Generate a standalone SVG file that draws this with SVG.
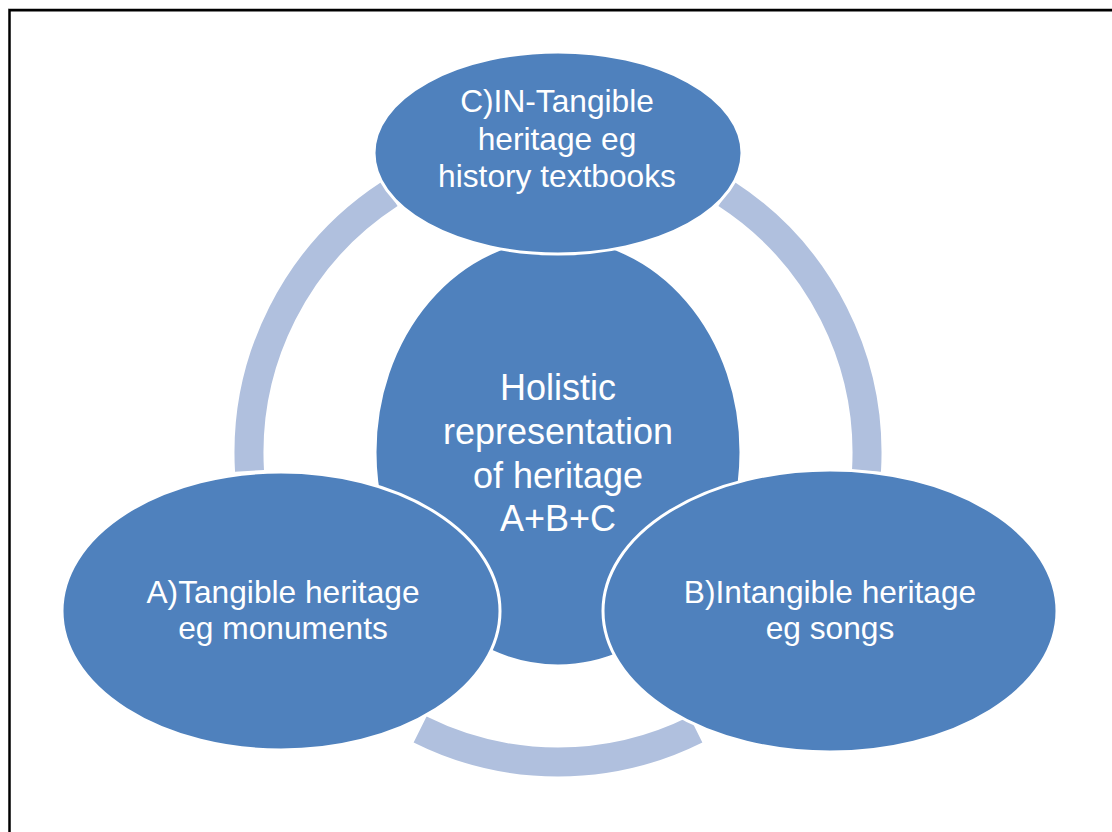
<svg xmlns="http://www.w3.org/2000/svg" width="1112" height="832" viewBox="0 0 1112 832">
  <style>
    .node { fill: #4F81BD; stroke: #FFFFFF; stroke-width: 3; }
    .arc { fill: none; stroke: #B0C0DE; stroke-width: 29; stroke-linecap: butt; }
    .lbl { fill: #FFFFFF; font-family: 'Liberation Sans', Arial, sans-serif; font-size: 31.7px; text-anchor: middle; }
    .big { font-size: 36px; }
  </style>
  <rect x="0" y="0" width="1112" height="832" fill="#FFFFFF"/>
  <line x1="8" y1="8.5" x2="1112" y2="8.5" stroke="#C0C0C0" stroke-width="1"/>
  <path d="M9.5 832 V10.2 H1112" fill="none" stroke="#000000" stroke-width="2.5"/>
  <g id="connectors">
    <path class="arc" d="M249.5 470.8 A309 309 0 0 1 389.7 193.9"/>
    <path class="arc" d="M726.3 193.9 A309 309 0 0 1 866.5 470.8"/>
    <path class="arc" d="M695.9 729.5 A309 309 0 0 1 420.1 729.5"/>
  </g>
  <g id="center">
    <ellipse class="node" cx="558" cy="452" rx="183" ry="214"/>
    <text class="lbl big" x="558" y="400">Holistic</text>
    <text class="lbl big" x="558" y="444">representation</text>
    <text class="lbl big" x="558" y="488">of heritage</text>
    <text class="lbl big" x="558" y="531">A+B+C</text>
  </g>
  <g id="nodeC">
    <ellipse class="node" cx="558" cy="153" rx="184" ry="101"/>
    <text class="lbl" x="557" y="112">C)IN-Tangible</text>
    <text class="lbl" x="557" y="150">heritage eg</text>
    <text class="lbl" x="557" y="187">history textbooks</text>
  </g>
  <g id="nodeA">
    <ellipse class="node" cx="281" cy="611" rx="219" ry="139"/>
    <text class="lbl" x="283" y="603">A)Tangible heritage</text>
    <text class="lbl" x="283" y="639">eg monuments</text>
  </g>
  <g id="nodeB">
    <ellipse class="node" cx="830" cy="611" rx="227" ry="141"/>
    <text class="lbl" x="830" y="603">B)Intangible heritage</text>
    <text class="lbl" x="830" y="639">eg songs</text>
  </g>
</svg>
